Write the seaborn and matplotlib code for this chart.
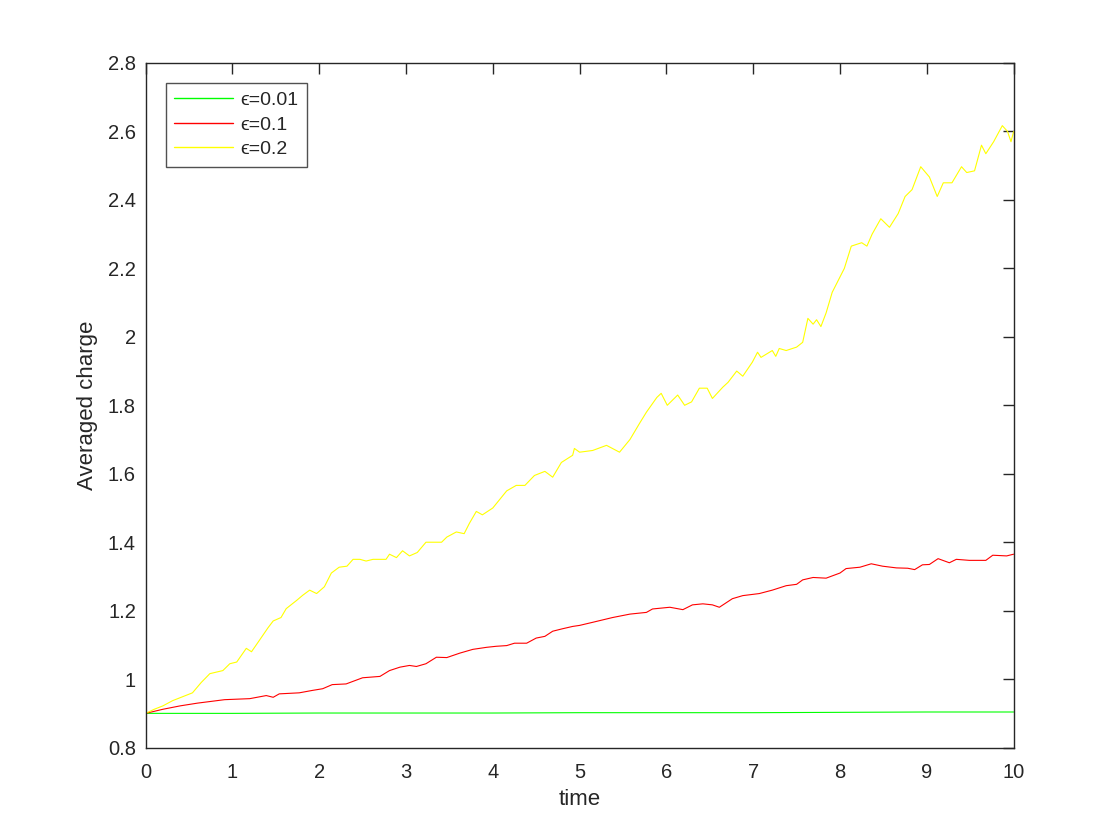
import seaborn as sns
import matplotlib.pyplot as plt
import pandas as pd

sns.set_theme(style="white")
plt.rcParams['font.family'] = ['Liberation Sans', 'DejaVu Sans']

# values
t_low = [0, 1, 2, 3, 4, 5, 6, 7, 8, 9, 10]
q_low = [0.900, 0.900, 0.901, 0.901, 0.901, 0.902, 0.902, 0.902, 0.903, 0.904, 0.904]

t_mid = [0, 0.2, 0.4, 0.6, 0.91, 1.2, 1.39, 1.47, 1.54, 1.77, 1.92, 2.04, 2.15, 2.31,
         2.5, 2.7, 2.81, 2.93, 3.04, 3.12, 3.23, 3.35, 3.47, 3.62, 3.77, 3.93, 4.04,
         4.16, 4.25, 4.39, 4.5, 4.6, 4.69, 4.8, 4.92, 5.0, 5.15, 5.38, 5.58, 5.77,
         5.84, 6.04, 6.19, 6.3, 6.42, 6.53, 6.61, 6.76, 6.88, 7.07, 7.22, 7.38, 7.5,
         7.57, 7.69, 7.84, 8.0, 8.07, 8.23, 8.36, 8.49, 8.65, 8.78, 8.86, 8.95, 9.03,
         9.13, 9.26, 9.34, 9.49, 9.68, 9.76, 9.92, 10.0]
q_mid = [0.900, 0.912, 0.922, 0.930, 0.940, 0.943, 0.952, 0.947, 0.957, 0.960, 0.967,
         0.972, 0.984, 0.986, 1.004, 1.008, 1.025, 1.035, 1.040, 1.037, 1.045, 1.064,
         1.063, 1.076, 1.087, 1.093, 1.096, 1.098, 1.105, 1.105, 1.120, 1.125, 1.140,
         1.147, 1.154, 1.157, 1.166, 1.180, 1.190, 1.195, 1.205, 1.210, 1.203, 1.217,
         1.220, 1.217, 1.210, 1.235, 1.244, 1.250, 1.260, 1.273, 1.277, 1.290, 1.297,
         1.295, 1.310, 1.323, 1.327, 1.337, 1.330, 1.325, 1.324, 1.320, 1.334, 1.335,
         1.352, 1.340, 1.350, 1.347, 1.347, 1.362, 1.360, 1.365]

t_high = [0, 0.1, 0.2, 0.31, 0.54, 0.64, 0.74, 0.89, 0.97, 1.05, 1.16, 1.22, 1.31, 1.41,
          1.47, 1.56, 1.62, 1.74, 1.81, 1.89, 1.97, 2.06, 2.14, 2.23, 2.32, 2.39, 2.47,
          2.54, 2.62, 2.77, 2.81, 2.89, 2.96, 3.04, 3.13, 3.23, 3.31, 3.41, 3.47, 3.58,
          3.67, 3.73, 3.81, 3.88, 4.0, 4.08, 4.16, 4.27, 4.37, 4.48, 4.6, 4.69, 4.79,
          4.92, 4.94, 5.0, 5.15, 5.31, 5.46, 5.58, 5.69, 5.77, 5.89, 5.94, 6.01, 6.13,
          6.21, 6.29, 6.38, 6.47, 6.53, 6.65, 6.71, 6.81, 6.88, 6.99, 7.05, 7.09, 7.22,
          7.26, 7.3, 7.38, 7.5, 7.57, 7.63, 7.69, 7.73, 7.78, 7.84, 7.91, 8.0, 8.05,
          8.13, 8.25, 8.31, 8.37, 8.47, 8.57, 8.67, 8.75, 8.83, 8.93, 9.03, 9.12, 9.19,
          9.29, 9.4, 9.46, 9.55, 9.63, 9.68, 9.77, 9.87, 9.93, 9.97, 10.0]
q_high = [0.900, 0.912, 0.922, 0.937, 0.960, 0.990, 1.016, 1.025, 1.045, 1.050, 1.090,
          1.080, 1.113, 1.150, 1.170, 1.180, 1.206, 1.230, 1.245, 1.260, 1.250, 1.270,
          1.310, 1.327, 1.330, 1.350, 1.350, 1.345, 1.350, 1.350, 1.365, 1.355, 1.375,
          1.360, 1.370, 1.400, 1.400, 1.400, 1.415, 1.430, 1.425, 1.455, 1.490, 1.480,
          1.500, 1.525, 1.550, 1.566, 1.566, 1.595, 1.607, 1.590, 1.633, 1.654, 1.674,
          1.663, 1.668, 1.683, 1.663, 1.700, 1.747, 1.780, 1.823, 1.835, 1.800, 1.830,
          1.800, 1.810, 1.850, 1.850, 1.820, 1.853, 1.867, 1.900, 1.885, 1.926, 1.955,
          1.940, 1.960, 1.943, 1.966, 1.960, 1.970, 1.984, 2.054, 2.037, 2.050, 2.030,
          2.070, 2.130, 2.175, 2.200, 2.265, 2.275, 2.265, 2.300, 2.345, 2.320, 2.360,
          2.410, 2.430, 2.497, 2.467, 2.410, 2.450, 2.450, 2.497, 2.480, 2.485, 2.560,
          2.535, 2.570, 2.617, 2.600, 2.570, 2.600]

labels = ['\u03f5=0.01', '\u03f5=0.1', '\u03f5=0.2']
colors = ['#00ff00', '#ff0000', '#ffff00']

df = pd.concat([
    pd.DataFrame({'time': t_low, 'charge': q_low, 'eps': labels[0]}),
    pd.DataFrame({'time': t_mid, 'charge': q_mid, 'eps': labels[1]}),
    pd.DataFrame({'time': t_high, 'charge': q_high, 'eps': labels[2]}),
], ignore_index=True)

fig = plt.figure(figsize=(11.2, 8.4), dpi=100)
ax = fig.add_axes([0.13, 0.11, 0.775, 0.815])
sns.lineplot(data=df, x='time', y='charge', hue='eps', hue_order=labels,
             palette=dict(zip(labels, colors)), estimator=None, sort=False,
             linewidth=0.8, ax=ax)

ax.set_xlim(0, 10)
ax.set_ylim(0.8, 2.8)
ax.set_xticks(range(0, 11))
ax.set_yticks([0.8, 1, 1.2, 1.4, 1.6, 1.8, 2, 2.2, 2.4, 2.6, 2.8])
ax.set_yticklabels(['0.8', '1', '1.2', '1.4', '1.6', '1.8', '2', '2.2', '2.4', '2.6', '2.8'])
ax.tick_params(direction='in', length=8, width=1, top=True, right=True,
               labelsize=14.5, colors='#262626')
ax.tick_params(axis='x', pad=11)
ax.tick_params(axis='y', pad=7)
for s in ax.spines.values():
    s.set_color('#262626')
    s.set_linewidth(1)
ax.set_xlabel('time', fontsize=16, color='#262626', labelpad=5)
ax.set_ylabel('Averaged charge', fontsize=16, color='#262626', labelpad=7)

leg = ax.legend(loc='upper left', bbox_to_anchor=(0.023, 0.971), borderaxespad=0,
                fontsize=14, frameon=True, fancybox=False, handlelength=3.0,
                borderpad=0.45, labelspacing=0.35, handletextpad=0.4)
leg.get_frame().set_edgecolor('#262626')
leg.get_frame().set_linewidth(1)
for line in leg.get_lines():
    line.set_linewidth(1.0)

fig.savefig('out.png', dpi=100)
